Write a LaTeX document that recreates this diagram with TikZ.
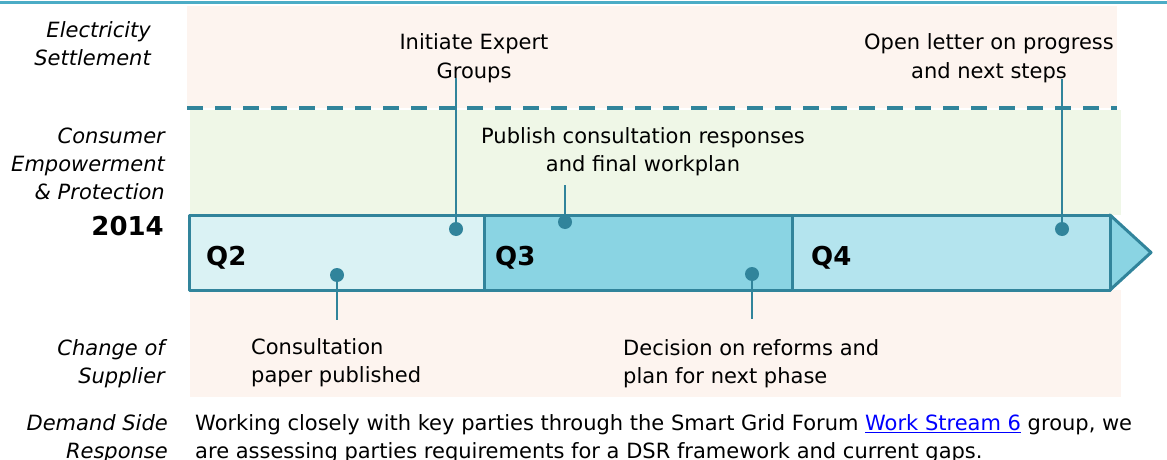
\documentclass[tikz,border=0pt]{standalone}
\usepackage{fontspec}
\setmainfont{DejaVu Sans}
\definecolor{topline}{HTML}{4BACC6}
\definecolor{teal}{HTML}{31849B}
\definecolor{pinkbg}{HTML}{FDF4EF}
\definecolor{greenbg}{HTML}{EFF7E7}
\definecolor{qtwo}{HTML}{DAF2F4}
\definecolor{qthree}{HTML}{8AD4E3}
\definecolor{qfour}{HTML}{B4E4EE}
\definecolor{linkblue}{HTML}{0000FF}
\tikzset{
  txt/.style={inner sep=0pt, font=\fontsize{21}{28}\selectfont},
  lab/.style={txt, anchor=base east, font=\fontsize{21}{28}\selectfont\itshape},
  qlab/.style={inner sep=0pt, anchor=base west, font=\fontsize{26}{30}\selectfont\bfseries},
  qbox/.style={draw=teal, line width=3pt, line join=round},
  dot/.style={circle, fill=teal, minimum size=14pt, inner sep=0pt},
  conn/.style={draw=teal, line width=2.5pt},
}
\begin{document}
\begin{tikzpicture}[x=1pt,y=-1pt]
\useasboundingbox (0,0) rectangle (1167,460);
% background bands
\fill[pinkbg] (187,6) rectangle (1117,108);
\fill[greenbg] (190,110) rectangle (1121,215);
\fill[pinkbg] (190,290) rectangle (1121,397);
\draw[topline, line width=3pt] (0,3) -- (1167,3);
\draw[teal, line width=4pt, dash pattern=on 16pt off 12pt] (187,108) -- (1117,108);

% left labels
\node[lab] (l1) at (151,38) {Electricity};
\node[lab] (l2) at (151,66) {Settlement};
\node[lab] (l3) at (165,143) {Consumer};
\node[lab] (l4) at (165,171) {Empowerment};
\node[lab] (l5) at (165,199) {\& Protection};
\node[qlab, anchor=base east] (yr) at (164,235) {2014};
\node[lab] (l6) at (165,355) {Change of};
\node[lab] (l7) at (165,383) {Supplier};
\node[lab] (l8) at (168,430) {Demand Side};
\node[lab] (l9) at (168,458) {Response};

% timeline bar
\draw[qbox, fill=qthree] (1110,215) -- (1151,252.5) -- (1110,290) -- cycle;
\draw[qbox, fill=qtwo] (189,215) rectangle (484,290);
\draw[qbox, fill=qthree] (484,215) rectangle (792,290);
\draw[qbox, fill=qfour] (792,215) rectangle (1110,290);
\node[qlab] (q2) at (206,265) {Q2};
\node[qlab] (q3) at (495,265) {Q3};
\node[qlab] (q4) at (811,265) {Q4};

% milestone texts
\node[txt, anchor=base] (t1a) at (474,50) {Initiate Expert};
\node[txt, anchor=base] (t1b) at (474,78) {Groups};
\node[txt, anchor=base] (t2a) at (643,143) {Publish consultation responses};
\node[txt, anchor=base] (t2b) at (643,171) {and final workplan};
\node[txt, anchor=base] (t3a) at (989,50) {Open letter on progress};
\node[txt, anchor=base] (t3b) at (989,78) {and next steps};
\node[txt, anchor=base west] (t4a) at (251,354) {Consultation};
\node[txt, anchor=base west] (t4b) at (251,382) {paper published};
\node[txt, anchor=base west] (t5a) at (623,355) {Decision on reforms and};
\node[txt, anchor=base west] (t5b) at (623,383) {plan for next phase};

% dots and connectors
\node[dot] (d1) at (456,229) {};
\node[dot] (d2) at (565,222) {};
\node[dot] (d3) at (1062,229) {};
\node[dot] (d4) at (337,275) {};
\node[dot] (d5) at (752,274) {};
\coordinate (e1) at (456,78);
\coordinate (e2) at (565,185);
\coordinate (e3) at (1062,79);
\coordinate (e4) at (337,320);
\coordinate (e5) at (752,319);
\draw[conn] (d1.center) -- (e1);
\draw[conn] (d2.center) -- (e2);
\draw[conn] (d3.center) -- (e3);
\draw[conn] (d4.center) -- (e4);
\draw[conn] (d5.center) -- (e5);

% bottom paragraph
\node[txt, anchor=base west] (p1) at (195,430) {Working closely with key parties through the Smart Grid Forum \textcolor{linkblue}{\underline{Work Stream 6}} group, we};
\node[txt, anchor=base west] (p2) at (195,458) {are assessing parties requirements for a DSR framework and current gaps.};
\end{tikzpicture}
\end{document}
